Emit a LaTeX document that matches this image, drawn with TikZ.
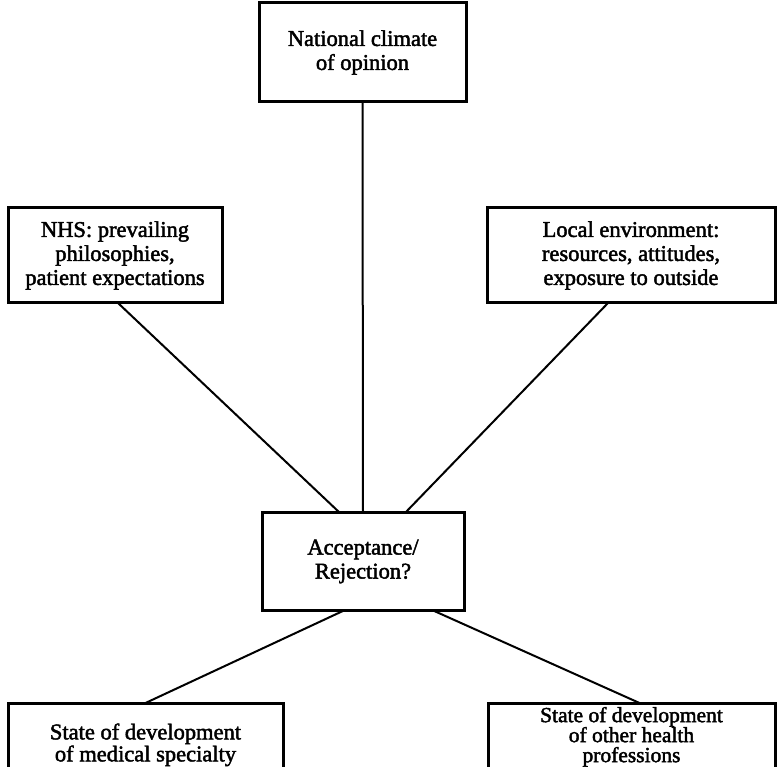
\documentclass[tikz,border=0pt]{standalone}
\usepackage{fontspec}
\setmainfont{Liberation Serif}[FakeBold=2]
\begin{document}
\begin{tikzpicture}[x=1pt,y=-1pt,
  box/.style={draw,line width=3pt,align=center,inner sep=0pt,outer sep=0pt,
    font=\fontsize{22.5}{24}\selectfont},
  link/.style={line width=2pt}]
\useasboundingbox (0,0) rectangle (780,767);
\node[box,minimum width=207,minimum height=99] (top) at (362.5,52.5) {National climate\\of opinion};
\node[box,minimum width=214,minimum height=95] (nhs) at (115,255.5) {NHS: prevailing\\philosophies,\\patient expectations};
\node[box,minimum width=288,minimum height=95] (loc) at (631,255.5) {Local environment:\\resources, attitudes,\\exposure to outside};
\node[box,minimum width=202,minimum height=97] (mid) at (363,561.5) {Acceptance/\\Rejection?};
\node[box,anchor=north,minimum width=275,inner ysep=20.5pt,
  font=\fontsize{22.5}{22}\selectfont] (bl) at (145.5,703) {State of development\\of medical specialty};
\node[box,anchor=north,minimum width=287,inner ysep=4pt,
  font=\fontsize{21.5}{20}\selectfont] (br) at (631.5,703) {State of development\\of other health\\professions};
\draw[link] (top.south) -- (mid.north);
\draw[link] ([xshift=3]nhs.south) -- ([xshift=-23]mid.north);
\draw[link] ([xshift=-23]loc.south) -- ([xshift=42]mid.north);
\draw[link] ([xshift=-18]mid.south) -- (bl.north);
\draw[link] ([xshift=69]mid.south) -- ([xshift=8]br.north);
\end{tikzpicture}
\end{document}
